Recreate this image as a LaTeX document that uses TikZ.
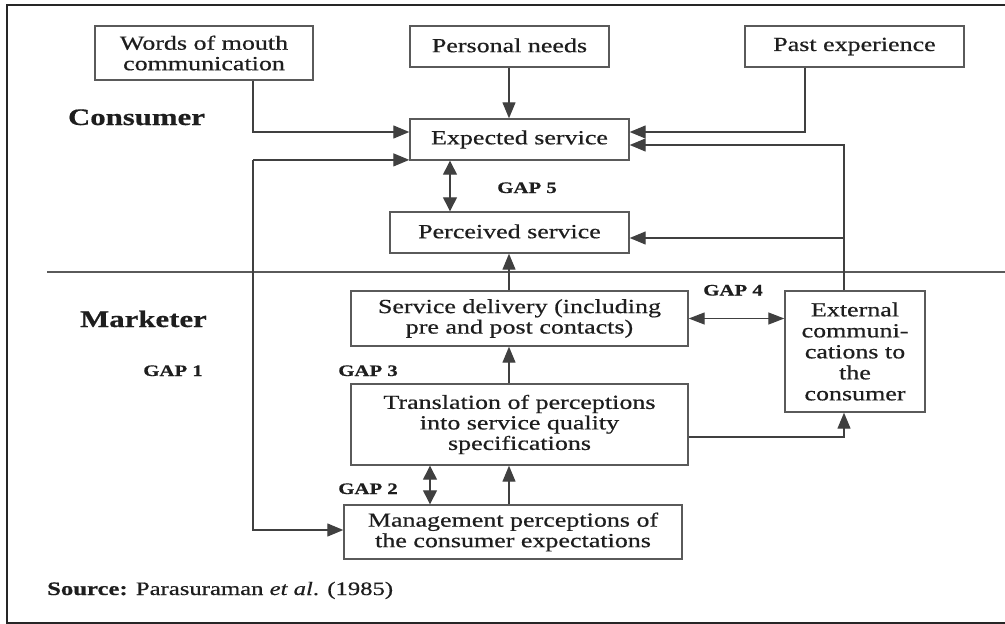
\documentclass[tikz,border=0pt]{standalone}
\usepackage{fontspec}
\setmainfont{Liberation Serif}[FakeStretch=1.3,FakeBold=0.6]
\usetikzlibrary{arrows.meta,calc}
\definecolor{txt}{HTML}{1E1E1E}
\definecolor{boxc}{HTML}{5A5A5A}
\definecolor{linec}{HTML}{404040}
\newcommand{\up}[1]{\raisebox{2.5pt}{#1}}
\tikzset{
  box/.style={draw=boxc, line width=1.4pt, inner sep=0pt, align=center, text=txt,
    font=\fontsize{20}{20.5}\selectfont},
  arr/.style={-{Triangle[length=16pt,width=13pt]}, line width=1.3pt, draw=linec},
  arr2/.style={{Triangle[length=14pt,width=14pt]}-{Triangle[length=14pt,width=14pt]}, line width=1.3pt, draw=linec},
  arr3/.style={{Triangle[length=16pt,width=12pt]}-{Triangle[length=16pt,width=12pt]}, line width=1.3pt, draw=linec},
  lbl/.style={font=\fontsize{23.7}{24}\selectfont\bfseries, text=txt, inner sep=0pt, anchor=base},
  gap/.style={font=\fontsize{16}{16}\selectfont\bfseries, text=txt, inner sep=0pt, anchor=base},
}
\begin{document}
\begin{tikzpicture}[x=1pt,y=-1pt]
\useasboundingbox (0,0) rectangle (1005,624);
% frame
\draw[line width=2pt, draw=black!85] (1005,5) -- (7,5) -- (7,622.5) -- (1005,622.5);
% separator
\draw[line width=1.2pt, draw=boxc] (47,272) -- (1005,272);

% boxes
\node[box, minimum width=218pt, minimum height=54pt] (wom) at (204,53) {Words of mouth\\communication};
\node[box, minimum width=199pt, minimum height=41pt] (pn) at (509.5,46.5) {\up{Personal needs}};
\node[box, minimum width=219pt, minimum height=41pt] (pe) at (854.5,46.5) {\up{Past experience}};
\node[box, minimum width=219pt, minimum height=41pt] (es) at (519.5,139.5) {\up{Expected service}};
\node[box, minimum width=239pt, minimum height=41pt] (ps) at (509.5,232.5) {\up{Perceived service}};
\node[box, minimum width=337pt, minimum height=55pt] (sd) at (519.5,318.5) {Service delivery (including\\pre and post contacts)};
\node[box, minimum width=140pt, minimum height=121pt, font=\fontsize{20}{21}\selectfont] (ext) at (855,351.5) {External\\communi-\\cations to\\the\\consumer};
\node[box, minimum width=337pt, minimum height=81pt] (tr) at (519.5,424.5) {Translation of perceptions\\into service quality\\specifications};
\node[box, minimum width=338pt, minimum height=54pt] (mp) at (513,532) {Management perceptions of\\the consumer expectations};

% labels
\node[lbl] (cons) at (136.5,125) {Consumer};
\node[lbl] (mark) at (143.5,327) {Marketer};
\node[gap] (g1) at (173,376) {GAP 1};
\node[gap] (g3) at (368,376) {GAP 3};
\node[gap] (g2) at (368,494) {GAP 2};
\node[gap] (g5) at (527,193) {GAP 5};
\node[gap] (g4) at (733,295.5) {GAP 4};
\node[font=\fontsize{19}{19}\selectfont, text=txt, inner sep=0pt, anchor=base west] (src) at (47,595)
  {\textbf{Source:} Parasuraman \textit{et al}. (1985)};

% helper coordinates
\coordinate (xl) at (253,0);
\coordinate (xc) at (509,0);
\coordinate (xe) at (844,0);
\coordinate (x5) at (450,0);
\coordinate (x2) at (430,0);

% connectors
\draw[arr] (wom.south -| xl) |- ([yshift=7.5pt]es.west);
\draw[arr] (pn.south -| xc) -- (es.north -| xc);
\draw[arr] ([xshift=-49.5pt]pe.south) |- ([yshift=7.5pt]es.east);
\draw[arr] (ext.north -| xe) |- ([yshift=-5.5pt]es.east);
\draw[arr] ([yshift=-5.5pt]ps.east -| xe) -- ([yshift=-5.5pt]ps.east);
\draw[arr] ([yshift=0.8pt]es.south west -| xl) -- ([yshift=0.8pt]es.south west);
\draw[arr] ([yshift=0.8pt]es.south west -| xl) |- ([yshift=2pt]mp.west);
\draw[arr2] (es.south -| x5) -- (ps.north -| x5);
\draw[arr] (sd.north -| xc) -- (ps.south -| xc);
\draw[arr] (tr.north -| xc) -- (sd.south -| xc);
\draw[arr] (mp.north -| xc) -- (tr.south -| xc);
\draw[arr2] (tr.south -| x2) -- (mp.north -| x2);
\draw[arr3] (sd.east) -- (ext.west |- sd.east);
\draw[arr] ([yshift=-12.5pt]tr.east) -| (ext.south -| xe);
\end{tikzpicture}
\end{document}
